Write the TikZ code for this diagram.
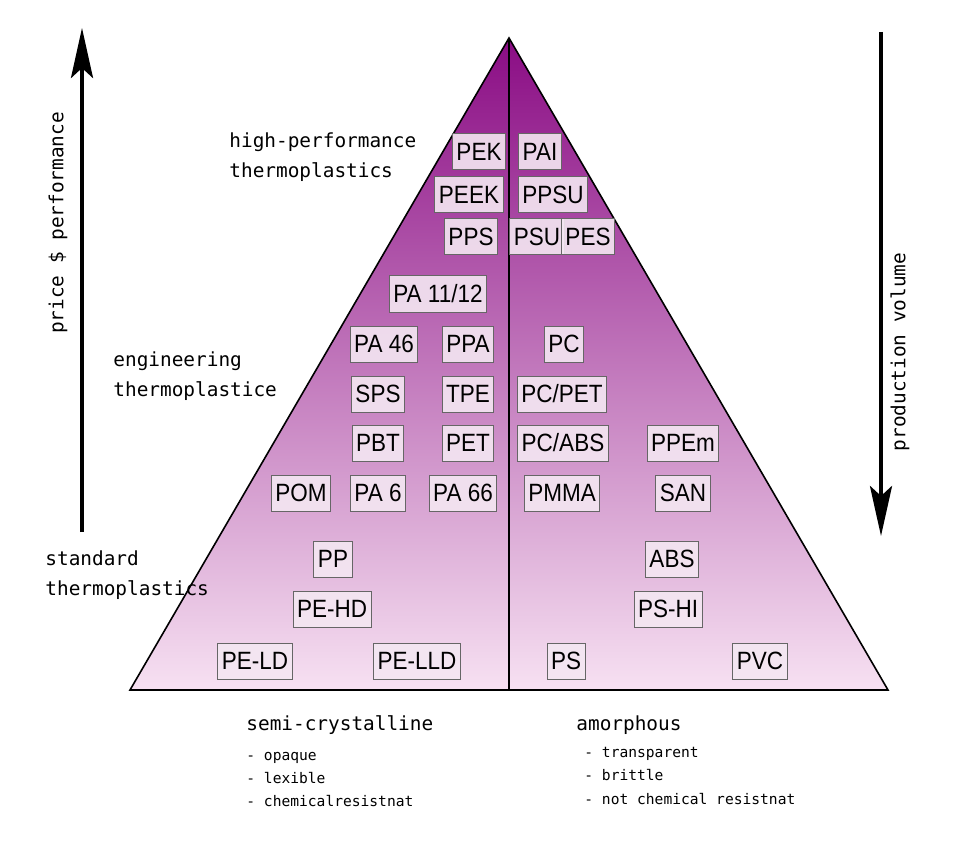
\documentclass[tikz,border=0pt]{standalone}
\usepackage{fontspec}
\setmainfont{Liberation Sans}
\newfontfamily\boxfont[FakeStretch=0.9]{Liberation Sans}
\newfontfamily\labelfont{DejaVu Sans Mono}
\usetikzlibrary{arrows.meta}
\definecolor{pyrtop}{RGB}{138,12,132}
\definecolor{pyrmid}{RGB}{196,82,178}
\definecolor{pyrbot}{RGB}{247,225,242}
\definecolor{boxfill}{RGB}{244,231,242}
\begin{document}
\begin{tikzpicture}[x=0.5pt,y=-0.5pt,
  poly/.style={draw=black!60,line width=0.5pt,fill=boxfill,fill opacity=0.9,text opacity=1,
    font=\boxfont\fontsize{12.5}{14}\selectfont,inner xsep=2pt,minimum height=18pt},
  lbl/.style={anchor=base west,inner sep=0pt,font=\labelfont\fontsize{9.7}{12}\selectfont},
  small/.style={anchor=base west,inner sep=0pt,font=\labelfont\fontsize{7.3}{9}\selectfont},
  bigarrow/.style={line width=2pt,-{Stealth[length=25pt,width=11pt,inset=5pt]}}]
\useasboundingbox (0,0) rectangle (958,850);

% pyramid
\shade[top color=pyrtop,middle color=pyrmid,bottom color=pyrbot] (509,38) -- (888,690) -- (130,690) -- cycle;
\draw[line width=0.8pt] (509,38) -- (888,690) -- (130,690) -- cycle;
\draw[line width=0.8pt] (509,38) -- (509,690);

% polymers
\foreach \n/\x/\y/\t in {pek/479/152/PEK, pai/540/152/PAI,
  peek/469/195/PEEK, ppsu/553/195/PPSU,
  pps/471/237/PPS, psu/537/237/PSU, pes/588/237/PES,
  pa1112/438/294/{PA 11/12},
  pa46/384/344/{PA 46}, ppa/468/344/PPA, pc/564/344/PC,
  sps/378/394/SPS, tpe/468/394/TPE, pcpet/562/394/{PC/PET},
  pbt/378/443/PBT, pet/468/443/PET, pcabs/563/443/{PC/ABS}, ppem/683/443/PPEm,
  pom/301/493/POM, pa6/378/493/{PA 6}, pa66/463/493/{PA 66}, pmma/562/493/PMMA, san/683/493/SAN,
  pp/333/559/PP, abs/672/559/ABS,
  pehd/332/609/PE-HD, pshi/668/609/PS-HI,
  peld/255/661/PE-LD, pelld/417/661/PE-LLD, ps/566/661/PS, pvc/760/661/PVC}
  \node[poly] (\n) at (\x,\y) {\t};

% classes
\node[lbl] (hp1) at (229,148) {high-performance};
\node[lbl] (hp2) at (229,178) {thermoplastics};
\node[lbl] (en1) at (113,366) {engineering};
\node[lbl] (en2) at (113,396) {thermoplastice};
\node[lbl] (st1) at (45,565) {standard};
\node[lbl] (st2) at (45,595) {thermoplastics};

% arrows
\coordinate (pbot) at (82,532);
\coordinate (ptop) at (82,28);
\draw[bigarrow] (pbot) -- (ptop);
\node[rotate=90,inner sep=0pt,font=\labelfont\fontsize{9.7}{12}\selectfont] (price) at (58,223) {price \$ performance};
\coordinate (vtop) at (881,32);
\coordinate (vbot) at (881,536);
\draw[bigarrow] (vtop) -- (vbot);
\node[rotate=90,inner sep=0pt,font=\labelfont\fontsize{9.7}{12}\selectfont] (volume) at (900,352) {production volume};

% properties
\node[lbl] (semi) at (246,730) {semi-crystalline};
\node[small] (s1) at (246,760) {- opaque};
\node[small] (s2) at (246,783) {- lexible};
\node[small] (s3) at (246,806) {- chemicalresistnat};
\node[lbl] (amor) at (576,730) {amorphous};
\node[small] (a1) at (584,757) {- transparent};
\node[small] (a2) at (584,780) {- brittle};
\node[small] (a3) at (584,804) {- not chemical resistnat};

\end{tikzpicture}
\end{document}
